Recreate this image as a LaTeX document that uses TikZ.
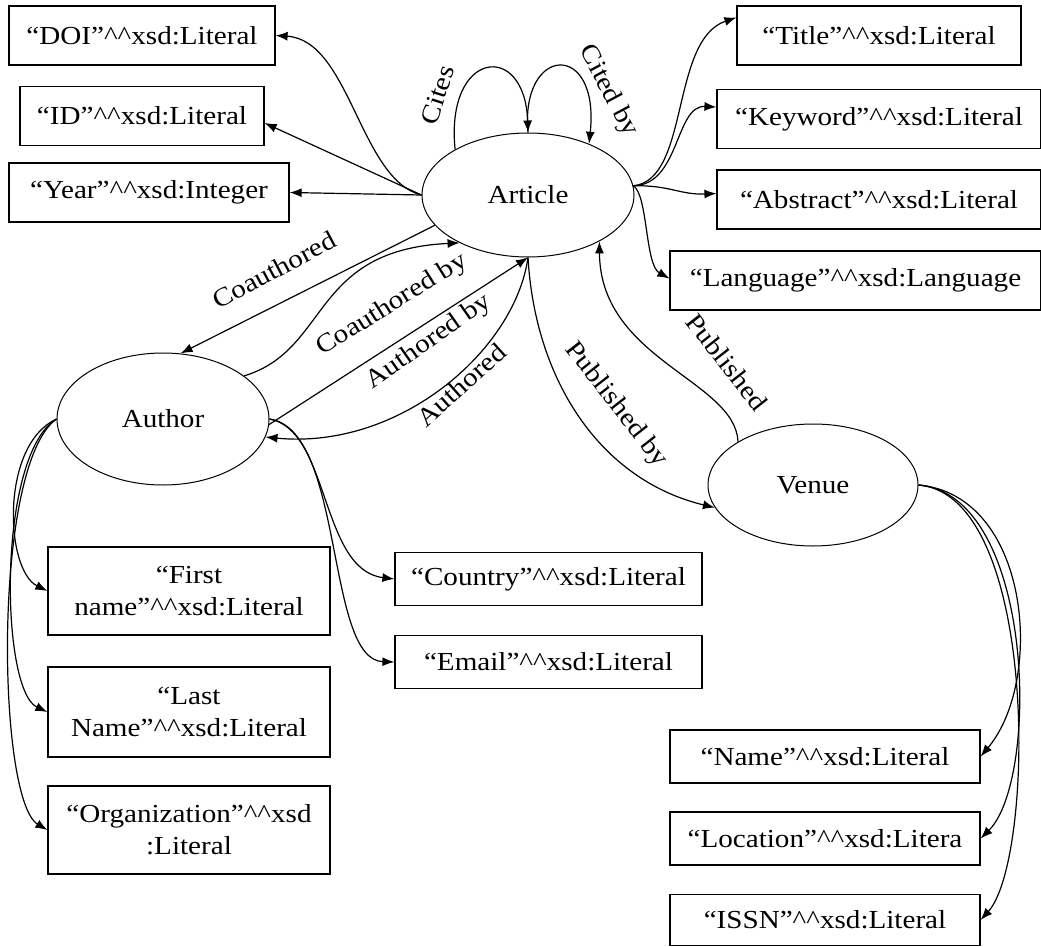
\documentclass[tikz,border=0pt]{standalone}
\usepackage{fontspec}
\setmainfont[FakeStretch=1.12]{Liberation Serif}
\usetikzlibrary{arrows.meta,shapes.geometric}
\newcommand{\hats}{\textasciicircum\textasciicircum}
\begin{document}
\begin{tikzpicture}[x=1pt,y=-1pt,
  font=\fontsize{26}{32}\selectfont,
  box/.style={draw, line width=1.2pt, inner sep=0pt, align=center},
  ent/.style={draw, ellipse, line width=1pt, inner sep=0pt},
  arr/.style={-{Latex[length=12pt,width=9pt]}, line width=1.2pt},
  lbl/.style={inner sep=0pt}]
\useasboundingbox (0,0) rectangle (1041,947);

% entities
\node[ent, minimum width=212pt, minimum height=124pt] (article) at (528,195) {Article};
\node[ent, minimum width=212pt, minimum height=132pt] (author) at (163,419) {Author};
\node[ent, minimum width=210pt, minimum height=122pt] (venue) at (813,485) {Venue};

% literal boxes
\node[box, minimum width=266pt, minimum height=59pt] (doi) at (142,35.5) {“DOI”\hats xsd:Literal};
\node[box, minimum width=244pt, minimum height=59pt] (id) at (142,116) {“ID”\hats xsd:Literal};
\node[box, minimum width=280pt, minimum height=59pt] (year) at (149,192.5) {“Year”\hats xsd:Integer};
\node[box, minimum width=284pt, minimum height=59pt] (title) at (879,35.5) {“Title”\hats xsd:Literal};
\node[box, minimum width=324pt, minimum height=59pt] (keyword) at (879,119) {“Keyword”\hats xsd:Literal};
\node[box, minimum width=324pt, minimum height=59pt] (abstract) at (879,199.5) {“Abstract”\hats xsd:Literal};
\node[box, minimum width=371pt, minimum height=59pt] (language) at (855.5,280.5) {“Language”\hats xsd:Language};
\node[box, minimum width=282pt, minimum height=88pt] (first) at (189,591) {“First\\name”\hats xsd:Literal};
\node[box, minimum width=282pt, minimum height=90pt] (last) at (189,712) {“Last\\Name”\hats xsd:Literal};
\node[box, minimum width=282pt, minimum height=88pt] (org) at (189,830) {“Organization”\hats xsd\\:Literal};
\node[box, minimum width=307pt, minimum height=53pt] (country) at (548.5,579) {“Country”\hats xsd:Literal};
\node[box, minimum width=307pt, minimum height=53pt] (email) at (548.5,662) {“Email”\hats xsd:Literal};
\node[box, minimum width=310pt, minimum height=53pt] (name) at (825,756.5) {“Name”\hats xsd:Literal};
\node[box, minimum width=310pt, minimum height=53pt] (location) at (825,838.5) {“Location”\hats xsd:Litera};
\node[box, minimum width=310pt, minimum height=51pt] (issn) at (825,920) {“ISSN”\hats xsd:Literal};

% article left attributes
\draw[arr] (article.west) .. controls (360,180) and (350,40) .. (doi.east);
\draw[arr] (article.west) -- ([yshift=-7pt]id.east);
\draw[arr] (article.west) -- (year.east);

% self loops
\draw[arr] (article.148) .. controls (445,50) and (525,40) .. (article.north);
\draw[arr] (article.north) .. controls (520,45) and (600,40) .. (article.40);
\node[lbl, rotate=72] (lcites) at (437.5,95) {Cites};
\node[lbl, rotate=-62] (lcitedby) at (608,91) {Cited by};

% article right attributes
\draw[arr] (article.5) .. controls (690,180) and (670,40) .. ([yshift=18pt]title.west);
\draw[arr] (article.5) .. controls (680,185) and (675,105) .. ([yshift=12pt]keyword.west);
\draw[arr] (article.5) .. controls (670,185) and (680,195) .. ([yshift=6pt]abstract.west);
\draw[arr] (article.5) .. controls (648,195) and (645,265) .. ([yshift=2pt]language.west);

% article - author
\draw[arr] (article.198) -- (author.75);
\node[lbl, rotate=28] (lcoauth) at (274,270) {Coauthored};
\draw[arr] (author.28) .. controls (330,350) and (310,250) .. (article.215);
\node[lbl, rotate=32] (lcoauthby) at (392,305) {Coauthored by};
\draw[arr] (author.-3) -- (article.south);
\node[lbl, rotate=35] (lauthby) at (429,342) {Authored by};
\draw[arr] (article.south) .. controls (515,350) and (400,450) .. (author.-10);
\node[lbl, rotate=42] (lauth) at (461,385) {Authored};

% article - venue
\draw[arr] (article.south) .. controls (535,380) and (600,480) .. (venue.193);
\node[lbl, rotate=-52] (lpubby) at (616,405) {Published by};
\draw[arr] (venue.150) .. controls (735,380) and (600,360) .. (article.-33);
\node[lbl, rotate=-52] (lpub) at (727,362) {Published};

% author attributes
\draw[arr] (author.west) .. controls (0,445) and (5,570) .. (first.west);
\draw[arr] (author.west) .. controls (-3,455) and (0,690) .. (last.west);
\draw[arr] (author.west) .. controls (-8,465) and (-3,800) .. (org.west);
\draw[arr] (author.east) .. controls (330,430) and (320,570) .. (country.west);
\draw[arr] (author.east) .. controls (345,430) and (325,660) .. (email.west);

% venue attributes
\draw[arr] (venue.east) .. controls (1030,495) and (1045,680) .. (name.east);
\draw[arr] (venue.east) .. controls (1035,495) and (1040,780) .. (location.east);
\draw[arr] (venue.east) .. controls (1040,495) and (1035,860) .. (issn.east);
\end{tikzpicture}
\end{document}
